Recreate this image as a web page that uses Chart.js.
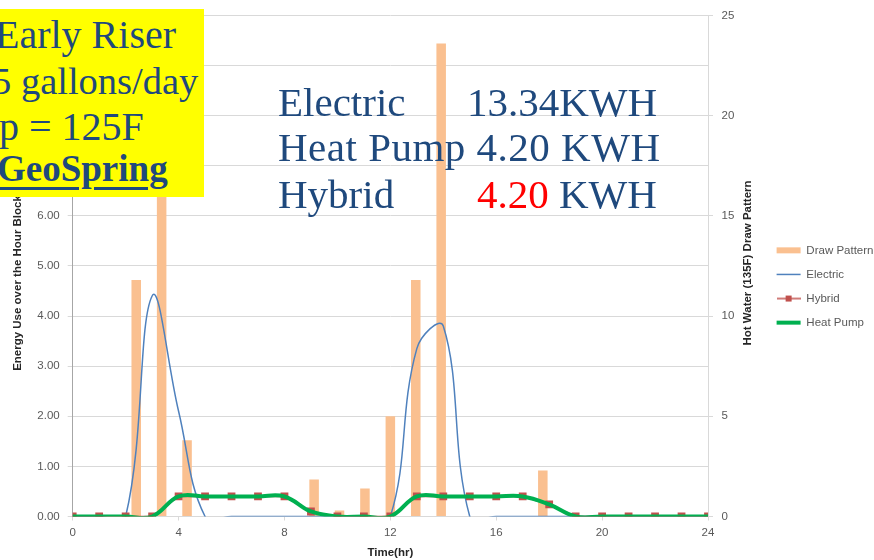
<!DOCTYPE html>
<html>
<head>
<meta charset="utf-8">
<title>Early Riser - GeoSpring energy use</title>
<script src="https://cdn.jsdelivr.net/npm/chart.js@4.4.1/dist/chart.umd.min.js"></script>
<style>
  html, body { margin: 0; padding: 0; background: #fff; overflow: hidden; }
  #wrap { position: relative; width: 874px; height: 560px; overflow: hidden; }
  #chart { position: absolute; left: 0; top: 0; }
  .serif { position: absolute; font-family: 'Liberation Serif', 'Times New Roman', serif; color: #1F497D; white-space: nowrap; }
  #profile { position: absolute; left: 0; top: 9px; width: 204px; height: 188px; background: #ffff00; overflow: hidden; }
  #profile .serif { font-size: 40px; line-height: 40px; }
  #profile .brand { font-size: 37px; line-height: 37px; font-weight: bold; text-decoration: underline; text-decoration-thickness: 2.5px; text-underline-offset: 6px; }
  #totals .serif { font-size: 41px; line-height: 41px; }
  .red { color: #ff0000; }
</style>
</head>
<body>
<div id="wrap">
  <canvas id="chart" width="874" height="560"></canvas>

  <div id="profile">
    <div class="serif" style="left:-5px; top:6px;">Early Riser</div>
    <div class="serif" style="left:-8px; top:52px; font-size:38.5px;">5 gallons/day</div>
    <div class="serif" style="left:-1px; top:98px;">p = 125F</div>
    <div class="serif brand" style="left:-3px; top:141px;">GeoSpring</div>
  </div>

  <div id="totals">
    <div class="serif" style="left:278px; top:82px;">Electric</div>
    <div class="serif" style="left:467px; top:82px;">13.34KWH</div>
    <div class="serif" style="left:278px; top:127px; letter-spacing:0.5px;">Heat Pump 4.20 KWH</div>
    <div class="serif" style="left:278px; top:174px;">Hybrid</div>
    <div class="serif" style="left:477px; top:174px;"><span class="red">4.20</span> KWH</div>
  </div>
</div>

<script>
// hour marks on the time axis (0..24)
const hours = [0, 1, 2, 3, 4, 5, 6, 7, 8, 9, 10, 11, 12, 13, 14, 15, 16, 17, 18, 19, 20, 21, 22, 23, 24];
// hour blocks for the draw pattern columns
const blockLabels = ['0', '1', '2', '3', '4', '5', '6', '7', '8', '9', '10', '11', '12',
                     '13', '14', '15', '16', '17', '18', '19', '20', '21', '22', '23', '24'];
const drawPattern = [0, 0, 11.8, 22, 3.8, 0, 0, 0, 0, 1.85, 0.3, 1.4, 5.0, 11.8, 23.6, 0, 0, 0, 2.3, 0, 0, 0, 0, 0, 0];
const electric = [0, 0, 0, 4.4, 2.1, 0, 0, 0, 0, 0, 0, 0, 0, 3.35, 3.8, 0, 0, 0, 0, 0, 0, 0, 0, 0, 0];
const hybrid = [0, 0, 0, 0, 0.4, 0.4, 0.4, 0.4, 0.4, 0.1, 0, 0, 0, 0.4, 0.4, 0.4, 0.4, 0.4, 0.24, 0, 0, 0, 0, 0, 0];
const heatPump = [0, 0, 0, 0, 0.4, 0.4, 0.4, 0.4, 0.4, 0.1, 0, 0, 0, 0.4, 0.4, 0.4, 0.4, 0.4, 0.24, 0, 0, 0, 0, 0, 0];
const timeTicks = [0, 4, 8, 12, 16, 20, 24];

const sans = 'Liberation Sans';
const tickFont = { family: sans, size: 11.5 };
const titleFont = { family: sans, size: 11.5, weight: 'bold' };

Chart.defaults.font.family = sans;

const toPoints = arr => arr.map((v, i) => ({ x: hours[i], y: v }));

// legend mark for the Hybrid series: a line with a square marker
const hybridMark = document.createElement('canvas');
hybridMark.width = 24;
hybridMark.height = 8;
(function () {
    const c = hybridMark.getContext('2d');
    c.strokeStyle = '#C0504D';
    c.lineWidth = 1.5;
    c.beginPath();
    c.moveTo(0, 4);
    c.lineTo(24, 4);
    c.stroke();
    c.fillStyle = '#C0504D';
    c.fillRect(9, 1, 6, 6);
})();
const legendMarks = ['rect', 'line', hybridMark, 'line'];

// both vertical axis titles read bottom-to-top
const axisTitles = {
    id: 'axisTitles',
    afterDraw(chart) {
        const ctx = chart.ctx;
        const draw = (text, x, y) => {
            ctx.save();
            ctx.translate(x, y);
            ctx.rotate(-Math.PI / 2);
            ctx.font = 'bold 11.5px ' + sans;
            ctx.fillStyle = '#262626';
            ctx.textAlign = 'center';
            ctx.textBaseline = 'middle';
            ctx.fillText(text, 0, 0);
            ctx.restore();
        };
        draw('Energy Use over the Hour Block', 18, 283);
        draw('Hot Water (135F) Draw Pattern', 748, 263);
    }
};

new Chart(document.getElementById('chart'), {
    type: 'line',
    data: {
        datasets: [{
            type: 'bar',
            label: 'Draw Pattern',
            data: drawPattern,
            xAxisID: 'xb',
            yAxisID: 'y2',
            backgroundColor: '#FAC090',
            grouped: false,
            barPercentage: 0.375,
            categoryPercentage: 1,
            order: 4
        }, {
            label: 'Electric',
            data: toPoints(electric),
            xAxisID: 'x',
            yAxisID: 'y',
            borderColor: '#4F81BD',
            borderWidth: 1.5,
            pointRadius: 0,
            tension: 0.4,
            order: 3
        }, {
            label: 'Hybrid',
            data: toPoints(hybrid),
            xAxisID: 'x',
            yAxisID: 'y',
            borderColor: '#C0504D',
            borderWidth: 1.5,
            pointStyle: 'rect',
            pointRadius: 5.5,
            pointBackgroundColor: '#C0504D',
            pointBorderWidth: 0,
            order: 2
        }, {
            label: 'Heat Pump',
            data: toPoints(heatPump),
            xAxisID: 'x',
            yAxisID: 'y',
            borderColor: '#00B050',
            borderWidth: 4,
            pointRadius: 0,
            tension: 0.4,
            order: 1
        }]
    },
    options: {
        responsive: false,
        animation: false,
        devicePixelRatio: 1,
        layout: { padding: { left: 4, top: 13, right: 0, bottom: 0 } },
        elements: { line: { capBezierPoints: false } },
        plugins: {
            tooltip: { enabled: false },
            legend: {
                position: 'right',
                maxWidth: 110,
                labels: {
                    usePointStyle: true,
                    pointStyleWidth: 24,
                    boxWidth: 24,
                    boxHeight: 6,
                    padding: 12.6,
                    color: '#595959',
                    font: tickFont,
                    sort: (a, b) => a.datasetIndex - b.datasetIndex,
                    generateLabels: chart => {
                        const items = Chart.defaults.plugins.legend.labels.generateLabels(chart);
                        items.forEach(item => {
                            item.pointStyle = legendMarks[item.datasetIndex];
                        });
                        return items;
                    }
                }
            }
        },
        scales: {
            xb: {
                type: 'category',
                labels: blockLabels,
                offset: true,
                display: false
            },
            x: {
                type: 'linear',
                position: 'bottom',
                min: 0,
                max: 24,
                offset: false,
                grid: { drawOnChartArea: false, tickLength: 4, color: '#D9D9D9', offset: false },
                border: { color: '#D9D9D9' },
                ticks: { color: '#595959', font: tickFont, padding: 5, maxRotation: 0 },
                afterBuildTicks: s => { s.ticks = timeTicks.map(v => ({ value: v })); },
                title: {
                    display: true,
                    text: 'Time(hr)',
                    color: '#262626',
                    font: titleFont,
                    padding: { top: 0, bottom: 0 }
                },
                afterFit: s => { s.height = 43.5; }
            },
            y: {
                position: 'left',
                min: 0,
                max: 10,
                grid: { color: '#D9D9D9', tickLength: 5 },
                border: { color: '#A6A6A6' },
                ticks: {
                    stepSize: 1,
                    color: '#595959',
                    font: tickFont,
                    padding: 8,
                    callback: v => v.toFixed(2)
                },
                afterFit: s => { s.width = 68.7; }
            },
            y2: {
                position: 'right',
                min: 0,
                max: 25,
                grid: { drawOnChartArea: false, tickLength: 5, color: '#D9D9D9' },
                border: { color: '#D9D9D9' },
                ticks: { stepSize: 5, color: '#595959', font: tickFont, padding: 8.5 },
                afterFit: s => { s.width = 56; }
            }
        }
    },
    plugins: [axisTitles]
});
</script>
</body>
</html>
